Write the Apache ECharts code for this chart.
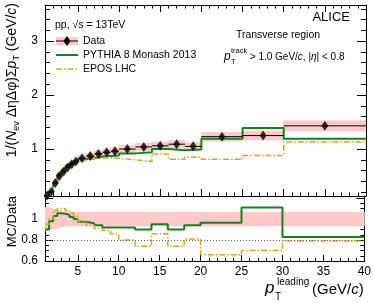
<!DOCTYPE html>
<html><head><meta charset="utf-8">
<script src="https://cdn.jsdelivr.net/npm/echarts@6/dist/echarts.min.js"></script>
<style>html,body{margin:0;padding:0;background:#fff}#c{width:374px;height:303px}</style>
</head><body><div id="c"></div>
<script>
// ---- data ----
const binEdges = [1,1.5,2,2.5,3,3.5,4,4.5,5,6,7,8,9,10,12,14,16,18,20,25,30,40];
const dataValues = [0.14,0.21,0.37,0.50,0.58,0.66,0.72,0.77,0.83,0.87,0.91,0.94,0.96,1.00,1.04,1.06,1.09,1.05,1.23,1.25,1.43];
const dataSysRel = [0.11,0.10,0.09,0.08,0.07,0.065,0.065,0.065,0.065,0.065,0.065,0.065,0.065,0.065,0.065,0.065,0.065,0.065,0.065,0.065,0.065];
const pythiaValues = [0.13,0.21,0.38,0.53,0.61,0.69,0.73,0.77,0.81,0.83,0.86,0.87,0.88,0.92,0.94,1.00,0.98,0.99,1.19,1.39,1.19];
const eposValues = [0.13,0.21,0.40,0.55,0.64,0.71,0.76,0.79,0.81,0.82,0.83,0.84,0.83,0.80,0.77,0.91,0.81,0.85,0.81,0.88,1.13];
const pythiaRatio = [0.90,0.98,1.03,1.055,1.05,1.04,1.02,1.00,0.975,0.96,0.94,0.92,0.92,0.92,0.90,0.95,0.90,0.94,0.965,1.11,0.83];
const eposRatio = [0.95,1.00,1.08,1.10,1.10,1.08,1.06,1.03,0.98,0.94,0.91,0.89,0.86,0.80,0.74,0.86,0.74,0.81,0.66,0.70,0.79];
const xMajorTicks = [5,10,15,20,25,30,35,40];
const yTopMajorTicks = [1,2,3];
const yRatioMajorTicks = [0.6,0.8,1.0,1.2];
const yRatioLabels = [0.6,0.8,1.0];

const FONT = 'Liberation Sans, Arial, Helvetica, sans-serif';
const GREEN = '#17801f', GOLD = '#d9a51c', PINK = '#ffc9c9';
const DASHDOT = [6,2,1.5,2];

// minor tick positions
const xMinorTicks = []; for (let k = 1; k <= 40; k++) xMinorTicks.push(k);
const yTopMinor = []; for (let k = 1; k <= 18; k++) yTopMinor.push(Math.round(k*2)/10);
const yRatioMinor = []; for (let k = 12; k <= 24; k++) yRatioMinor.push(Math.round(k*5)/100);

function xAx(grid, pos, ticks, len, line, labels) {
  return {type:'value', gridIndex:grid, position:pos, min:1, max:40,
    axisLine:{show:line, onZero:false, lineStyle:{color:'#000', width:1}},
    axisTick:{show:true, inside:true, length:len, customValues:ticks, lineStyle:{color:'#000', width:1}},
    axisLabel: labels ? {show:true, customValues:labels, color:'#000', fontSize:12, fontFamily:FONT, margin:5} : {show:false},
    splitLine:{show:false}};
}
function yAx(grid, pos, min, max, ticks, len, line, labels) {
  return {type:'value', gridIndex:grid, position:pos, min:min, max:max,
    axisLine:{show:line, onZero:false, lineStyle:{color:'#000', width:1}},
    axisTick:{show:true, inside:true, length:len, customValues:ticks, lineStyle:{color:'#000', width:1}},
    axisLabel: labels ? {show:true, customValues:labels, color:'#000', fontSize:12, fontFamily:FONT, margin:7} : {show:false},
    splitLine:{show:false}};
}

function bins(vals, f) { return vals.map((v,i)=>f(binEdges[i], binEdges[i+1], v, i)); }
function stepPts(vals) { const p=[]; vals.forEach((v,i)=>{p.push([binEdges[i],v]); p.push([binEdges[i+1],v]);}); return p; }

const bandRender = function(params, api) {
  const p0 = api.coord([api.value(0), api.value(3)]);
  const p1 = api.coord([api.value(1), api.value(2)]);
  const r = echarts.graphic.clipRectByRect({x:p0[0], y:p0[1], width:p1[0]-p0[0], height:p1[1]-p0[1]},
    {x:params.coordSys.x, y:params.coordSys.y, width:params.coordSys.width, height:params.coordSys.height});
  return r && {type:'rect', shape:r, style:{fill:PINK, stroke:PINK, lineWidth:0.8}};
};
const hbarRender = function(params, api) {
  const a = api.coord([api.value(0), api.value(2)]);
  const b = api.coord([api.value(1), api.value(2)]);
  return {type:'line', shape:{x1:a[0], y1:a[1], x2:b[0], y2:b[1]}, style:{stroke:'#000', lineWidth:1}};
};

const option = {
  animation:false,
  grid:[{left:45, right:8, top:5, height:191}, {left:45, right:8, top:196, height:65}],
  xAxis:[
    xAx(0,'bottom',xMinorTicks,3.5,true), xAx(0,'bottom',xMajorTicks,7,false),
    xAx(0,'top',xMinorTicks,3.5,true), xAx(0,'top',xMajorTicks,7,false),
    xAx(1,'bottom',xMinorTicks,3,true), xAx(1,'bottom',xMajorTicks,6,false,xMajorTicks),
    xAx(1,'top',[],0,true)
  ],
  yAxis:[
    yAx(0,'left',0.13,3.67,yTopMinor,5,true), yAx(0,'left',0.13,3.67,yTopMajorTicks,9,false,yTopMajorTicks),
    yAx(0,'right',0.13,3.67,yTopMinor,5,true), yAx(0,'right',0.13,3.67,yTopMajorTicks,9,false),
    yAx(1,'left',0.6,1.22,yRatioMinor,4,true), yAx(1,'left',0.6,1.22,yRatioMajorTicks,8,false,yRatioLabels),
    yAx(1,'right',0.6,1.22,yRatioMinor,4,true), yAx(1,'right',0.6,1.22,yRatioMajorTicks,8,false)
  ],
  series:[
    {type:'custom', name:'Data sys', xAxisIndex:0, yAxisIndex:0, z:1, clip:true, renderItem:bandRender,
     encode:{x:[0,1], y:[2,3]},
     data: bins(dataValues, (lo,hi,v,i)=>[lo,hi,v*(1-dataSysRel[i]),v*(1+dataSysRel[i])])},
    {type:'line', name:'PYTHIA 8 Monash 2013', xAxisIndex:0, yAxisIndex:0, z:3, symbol:'none', clip:true,
     lineStyle:{color:GREEN, width:2}, data:stepPts(pythiaValues)},
    {type:'line', name:'EPOS LHC', xAxisIndex:0, yAxisIndex:0, z:3, symbol:'none', clip:true,
     lineStyle:{color:GOLD, width:1.5, type:DASHDOT}, data:stepPts(eposValues)},
    {type:'custom', name:'Data bins', xAxisIndex:0, yAxisIndex:0, z:4, clip:true, renderItem:hbarRender,
     encode:{x:[0,1], y:2}, data: bins(dataValues, (lo,hi,v)=>[lo,hi,v])},
    {type:'scatter', name:'Data', xAxisIndex:0, yAxisIndex:0, z:5, symbol:'diamond', symbolSize:[7,10],
     itemStyle:{color:'#000'}, data: bins(dataValues, (lo,hi,v)=>[(lo+hi)/2, v])},
    // ratio panel
    {type:'custom', name:'Ratio sys', xAxisIndex:4, yAxisIndex:4, z:1, clip:true, renderItem:bandRender,
     encode:{x:[0,1], y:[2,3]},
     data: bins(dataValues, (lo,hi,v,i)=>[lo,hi,1-dataSysRel[i],1+dataSysRel[i]])},
    {type:'line', name:'PYTHIA ratio', xAxisIndex:4, yAxisIndex:4, z:3, symbol:'none', clip:true,
     lineStyle:{color:GREEN, width:2}, data:stepPts(pythiaRatio),
     markLine:{silent:true, symbol:'none', label:{show:false}, lineStyle:{color:'#666', type:[1,2], width:1},
       data:[{yAxis:0.8}]}},
    {type:'line', name:'EPOS ratio', xAxisIndex:4, yAxisIndex:4, z:3, symbol:'none', clip:true,
     lineStyle:{color:GOLD, width:1.5, type:DASHDOT}, data:stepPts(eposRatio)}
  ],
  graphic:[
    {type:'text', x:12, y:3, rotation:Math.PI/2, style:{
      text:'{b|1/(}{i|N}{s|ev}{b| ΔηΔφ)Σ}{i|p}{s|T}{b| (GeV/}{i|c}{b|)}', align:'right', verticalAlign:'middle',
      rich:{b:{fontSize:14, lineHeight:18, fontFamily:FONT, fill:'#000'},
            i:{fontSize:14, lineHeight:18, fontFamily:FONT, fontStyle:'italic', fill:'#000'},
            s:{fontSize:9, lineHeight:9, fontFamily:FONT, fill:'#000', verticalAlign:'bottom'}}}},
    {type:'text', x:12, y:196, rotation:Math.PI/2, style:{text:'MC/Data', align:'right', verticalAlign:'middle',
      fontSize:13, fontFamily:FONT, fill:'#000'}},
    // x title
    {type:'text', x:265, y:288, style:{text:'p', fontSize:17, fontStyle:'italic', fontFamily:FONT, fill:'#000', verticalAlign:'middle'}},
    {type:'text', x:275, y:297, style:{text:'T', fontSize:10, fontFamily:FONT, fill:'#000', verticalAlign:'middle'}},
    {type:'text', x:277, y:282, style:{text:'leading', fontSize:10, fontFamily:FONT, fill:'#000', verticalAlign:'middle'}},
    {type:'text', x:312, y:290, style:{text:'(GeV/{i|c})', fontSize:15, fontFamily:FONT, fill:'#000', verticalAlign:'middle',
      rich:{i:{fontSize:15, fontStyle:'italic', fontFamily:FONT, fill:'#000'}}}},
    // legend
    {type:'text', x:55, y:25, style:{text:'pp, √s = 13TeV', fontSize:10.5, fontFamily:FONT, fill:'#000', verticalAlign:'middle'}},
    {type:'rect', shape:{x:56, y:37, width:22, height:8}, style:{fill:PINK}},
    {type:'line', shape:{x1:56, y1:41, x2:78, y2:41}, style:{stroke:'#000', lineWidth:1}},
    {type:'polygon', shape:{points:[[67,36],[70.5,41],[67,46],[63.5,41]]}, style:{fill:'#000'}},
    {type:'text', x:83, y:41, style:{text:'Data', fontSize:10.5, fontFamily:FONT, fill:'#000', verticalAlign:'middle'}},
    {type:'line', shape:{x1:56, y1:55, x2:78, y2:55}, style:{stroke:GREEN, lineWidth:2}},
    {type:'text', x:83, y:55, style:{text:'PYTHIA 8 Monash 2013', fontSize:10.5, fontFamily:FONT, fill:'#000', verticalAlign:'middle'}},
    {type:'line', shape:{x1:56, y1:69, x2:78, y2:69}, style:{stroke:GOLD, lineWidth:1.5, lineDash:DASHDOT}},
    {type:'text', x:83, y:69, style:{text:'EPOS LHC', fontSize:10.5, fontFamily:FONT, fill:'#000', verticalAlign:'middle'}},
    // right annotations
    {type:'text', x:350, y:17, style:{text:'ALICE', fontSize:13, fontFamily:FONT, fill:'#000', align:'right', verticalAlign:'middle'}},
    {type:'text', x:278, y:35, style:{text:'Transverse region', fontSize:10.5, fontFamily:FONT, fill:'#000', align:'center', verticalAlign:'middle'}},
    {type:'text', x:224, y:57, style:{text:'p', fontSize:12, fontStyle:'italic', fontFamily:FONT, fill:'#000', verticalAlign:'middle'}},
    {type:'text', x:231, y:51, style:{text:'track', fontSize:7.5, fontFamily:FONT, fill:'#000', verticalAlign:'middle'}},
    {type:'text', x:231, y:62, style:{text:'T', fontSize:7.5, fontFamily:FONT, fill:'#000', verticalAlign:'middle'}},
    {type:'text', x:247, y:57, style:{text:' > 1.0 GeV/{i|c}, |{i|η}| < 0.8', fontSize:10, fontFamily:FONT, fill:'#000', verticalAlign:'middle',
      rich:{i:{fontSize:10, fontStyle:'italic', fontFamily:FONT, fill:'#000'}}}}
  ]
};
const chart = echarts.init(document.getElementById('c'), null, {renderer:'canvas'});
chart.setOption(option);
</script></body></html>
